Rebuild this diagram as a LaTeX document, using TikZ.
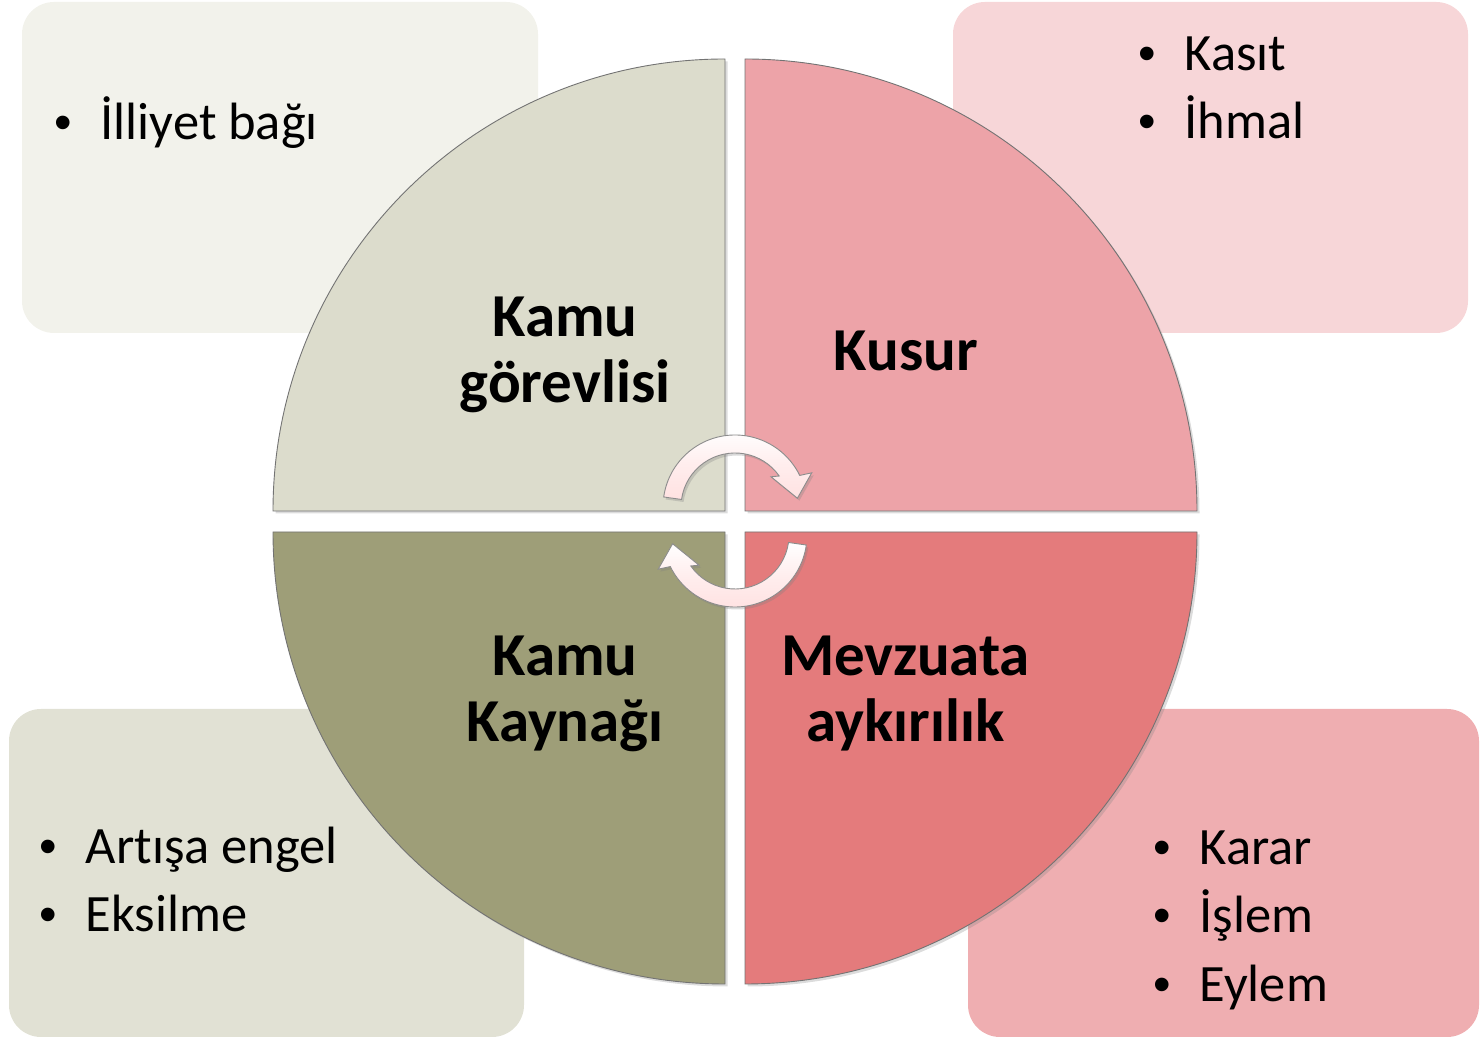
\documentclass[tikz,border=0pt]{standalone}
\usepackage{fontspec}
\setmainfont[Ligatures=NoCommon]{Carlito}
\newfontfamily\bulfont{Liberation Sans}
\usetikzlibrary{shadows}
\definecolor{boxTL}{HTML}{F2F2EB}
\definecolor{boxTR}{HTML}{F7D6D8}
\definecolor{boxBL}{HTML}{E1E1D4}
\definecolor{boxBR}{HTML}{EFAEB1}
\definecolor{qTL}{HTML}{DCDCCC}
\definecolor{qTR}{HTML}{EDA3A8}
\definecolor{qBL}{HTML}{9E9E78}
\definecolor{qBR}{HTML}{E47B7C}
\definecolor{arrowpink}{HTML}{FFE1E1}
\newcommand{\bul}{\makebox[0pt]{\fontsize{50pt}{60pt}\bulfont\textbullet}\hspace*{37.5pt}}
\tikzset{
  sidebox/.style={rounded corners=32pt, draw=none},
  quad/.style={draw=black!55, line width=0.9pt,
    drop shadow={opacity=0.28, shadow xshift=2.5pt, shadow yshift=-2.5pt}},
  lbl/.style={font=\fontsize{61pt}{66pt}\selectfont\bfseries, align=center,
    inner sep=0pt, anchor=north},
  itm/.style={font=\fontsize{52.5pt}{60pt}\selectfont, anchor=base west, inner sep=0pt},
  carrow/.style={draw=black!45, line width=0.9pt, top color=white, bottom color=arrowpink,
    middle color=arrowpink!60!white,
    drop shadow={opacity=0.3, shadow xshift=2pt, shadow yshift=-2.5pt}}
}
\begin{document}
\begin{tikzpicture}[x=1pt,y=1pt]
\useasboundingbox (0,0) rectangle (1480,1040);
% side boxes
\path[sidebox, fill=boxTL] (22,707) rectangle (538,1038);
\path[sidebox, fill=boxTR] (953,707) rectangle (1468,1038);
\path[sidebox, fill=boxBL] (9,3) rectangle (524,331);
\path[sidebox, fill=boxBR] (968,3) rectangle (1479,331);
% items
\node[itm] (i1) at (63,900) {\bul İlliyet bağı};
\node[itm] (k1) at (1147,969) {\bul Kasıt};
\node[itm] (k2) at (1147,901) {\bul İhmal};
\node[itm] (a1) at (48,176) {\bul Artışa engel};
\node[itm] (a2) at (48,108) {\bul Eksilme};
\node[itm] (r1) at (1162,175) {\bul Karar};
\node[itm] (r2) at (1162,107) {\bul İşlem};
\node[itm] (r3) at (1162,38) {\bul Eylem};
% quadrants
\path[quad, fill=qTL] (725,529) -- (273,529) arc[start angle=180, end angle=90, radius=452pt] -- cycle;
\path[quad, fill=qTR] (745,529) -- (745,981) arc[start angle=90, end angle=0, radius=452pt] -- cycle;
\path[quad, fill=qBL] (725,508) -- (725,56) arc[start angle=270, end angle=180, radius=452pt] -- cycle;
\path[quad, fill=qBR] (745,508) -- (1197,508) arc[start angle=0, end angle=-90, radius=452pt] -- cycle;
% labels
\node[lbl] (kg) at (565,743) {Kamu\\görevlisi};
\node[lbl] (ku) at (906,709.5) {Kusur};
\node[lbl] (kk) at (565,404) {Kamu\\Kaynağı};
\node[lbl] (ma) at (905.5,404) {Mevzuata\\aykırılık};
% circular arrows
\begin{scope}[shift={(735,533)}]
\path[carrow] (172:72) arc[start angle=172, end angle=26, radius=72pt]
  -- (24:84) -- (8:63) -- (40:47) -- (35:54)
  arc[start angle=35, end angle=172, radius=54pt] -- cycle;
\end{scope}
\begin{scope}[shift={(735,505)}, rotate=180]
\path[carrow] (172:72) arc[start angle=172, end angle=26, radius=72pt]
  -- (24:84) -- (8:63) -- (40:47) -- (35:54)
  arc[start angle=35, end angle=172, radius=54pt] -- cycle;
\end{scope}
\end{tikzpicture}
\end{document}
